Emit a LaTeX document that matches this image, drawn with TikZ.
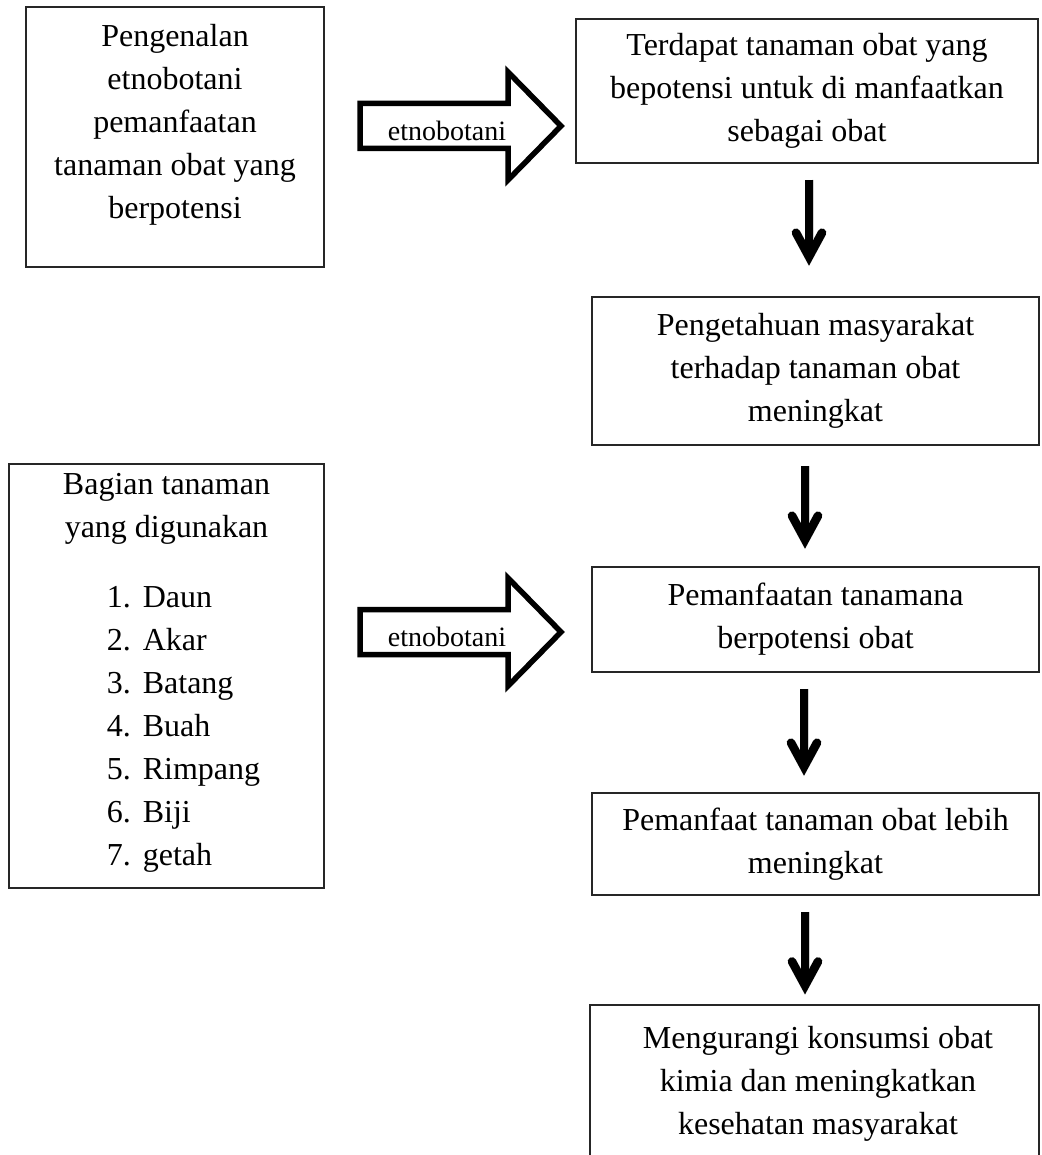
\documentclass[tikz,border=0pt]{standalone}
\usepackage{fontspec}
\setmainfont{Liberation Serif}
\usetikzlibrary{calc}
\begin{document}
\begin{tikzpicture}[x=1pt,y=-1pt,
  box/.style={draw=black!85, line width=1.5pt, align=center, inner sep=0pt, font=\fontsize{32}{43}\selectfont},
  plain/.style={align=center, inner sep=0pt, font=\fontsize{32}{43}\selectfont},
  lbl/.style={inner sep=0pt, font=\fontsize{28}{34}\selectfont},
  edge/.style={draw=black!85, line width=1.5pt},
  blockarr/.style={draw=black, line width=5.5pt, fill=white, line join=miter},
  shaft/.style={draw=black, line width=8.5pt, line cap=butt},
  head/.style={draw=black, line width=8.5pt, line cap=round, line join=miter},
  shadowed/.style={draw=black!18, line width=9pt}]
\useasboundingbox (0,0) rectangle (1041,1155);

% left boxes
\node[box, minimum width=298pt, minimum height=260pt] (b1) at (175,137)
  {\parbox{280pt}{\centering Pengenalan\\etnobotani\\pemanfaatan\\tanaman obat yang\\berpotensi\par\vspace*{24pt}}};
\node[box, minimum width=315pt, minimum height=424pt] (bag) at (166.5,676)
  {\parbox{300pt}{\centering Bagian tanaman\\yang digunakan\\[27pt]\hspace*{34pt}\begin{tabular}[t]{@{}l@{\hspace{12pt}}l@{}}1.&Daun\\2.&Akar\\3.&Batang\\4.&Buah\\5.&Rimpang\\6.&Biji\\7.&getah\end{tabular}}};

% right column
\node[box, minimum width=462pt, minimum height=144pt] (b2) at (807,91)
  {Terdapat tanaman obat yang\\bepotensi untuk di manfaatkan\\sebagai obat};
\node[box, minimum width=447pt, minimum height=148pt] (b3) at (815.5,371)
  {Pengetahuan masyarakat\\terhadap tanaman obat\\meningkat};
\node[box, minimum width=447pt, minimum height=105pt] (b4) at (815.5,619.5)
  {Pemanfaatan tanamana\\berpotensi obat};
\node[box, minimum width=447pt, minimum height=102pt] (b5) at (815.5,844)
  {Pemanfaat tanaman obat lebih\\meningkat};
\node[plain] (b6) at (818,1084)
  {Mengurangi konsumsi obat\\kimia dan meningkatkan\\kesehatan masyarakat};
\coordinate (b6nw) at (590,1005);
\coordinate (b6ne) at (1039,1005);
\draw[edge] (b6nw |- 0,1155) -- (b6nw) -- (b6ne) -- (b6ne |- 0,1155);

% block arrows with labels
\begin{scope}[shift={(360,103.5)}]
  \draw[blockarr] (0,0) -- (148,0) -- (148,-31.5) -- (201,22.5) -- (148,76.5) -- (148,45) -- (0,45) -- cycle;
\end{scope}
\node[lbl] (e1) at (447,131) {etnobotani};
\begin{scope}[shift={(360,609.5)}]
  \draw[blockarr] (0,0) -- (148,0) -- (148,-31.5) -- (201,22.5) -- (148,76.5) -- (148,45) -- (0,45) -- cycle;
\end{scope}
\node[lbl] (e2) at (447,637) {etnobotani};

% down arrows (tip point t_i, then shaft from box above)
\coordinate (t1) at ($(b3.north)+(-6.5,-39.5)$);
\coordinate (t2) at ($(b4.north)+(-10.5,-26.5)$);
\coordinate (t3) at ($(b5.north)+(-11.5,-25.5)$);
\coordinate (t4) at ($(b6nw)+(215,-19.5)$);
\foreach \s/\t/\dx/\dy in {b2/t1/2/16, b3/t2/-10.5/20, b4/t3/-11.5/16, b5/t4/-10.5/16} {
  \begin{scope}[shift={(1.5,2.5)}]
    \draw[shadowed, line cap=butt] ($(\s.south)+(\dx,\dy)$) -- (\t);
    \draw[shadowed, line cap=round, line join=miter] ($(\t)+(-13,-24)$) -- (\t) -- ($(\t)+(13,-24)$);
  \end{scope}
  \draw[shaft] ($(\s.south)+(\dx,\dy)$) -- (\t);
  \draw[head] ($(\t)+(-13,-24)$) -- (\t) -- ($(\t)+(13,-24)$);
}
\end{tikzpicture}
\end{document}
